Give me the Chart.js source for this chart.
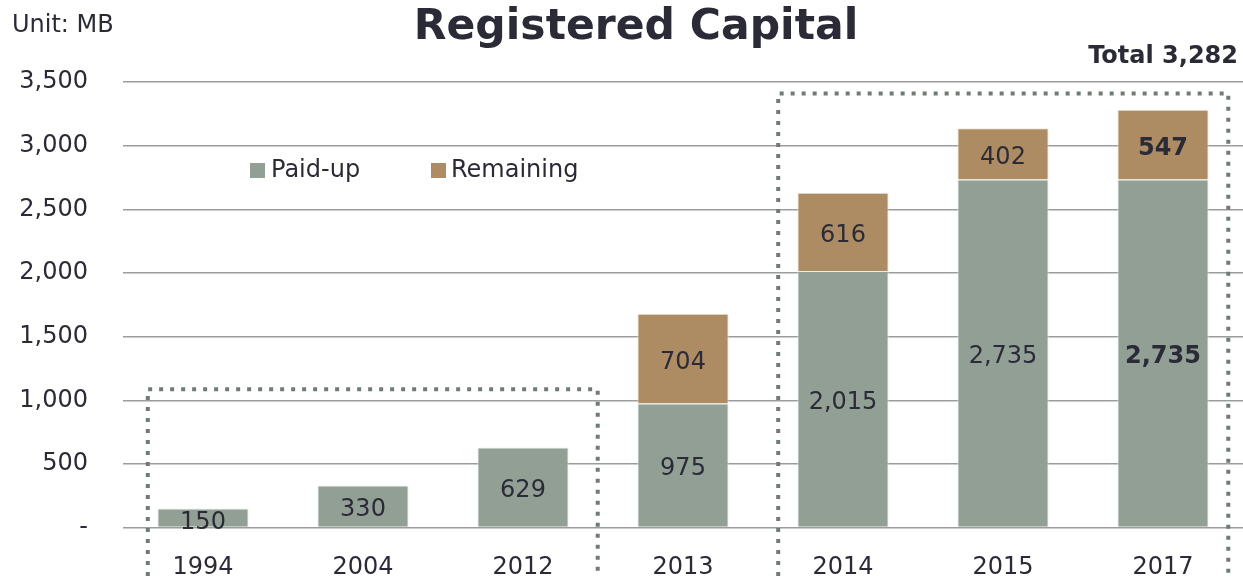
<!DOCTYPE html>
<html>
<head>
<meta charset="utf-8">
<script src="https://cdn.jsdelivr.net/npm/chart.js@4.4.1/dist/chart.umd.min.js"></script>
<style>
  html, body { margin: 0; padding: 0; background: #fff; }
  #wrap { position: relative; width: 1243px; height: 577px; overflow: hidden; font-family: 'DejaVu Sans', sans-serif; color: #2b2b38; }
  #chart { position: absolute; left: 0; top: 0; }
  .txt { position: absolute; white-space: nowrap; }
  #unit { left: 12px; top: 10px; font-size: 24px; }
  #title { left: 0; width: 1272px; text-align: center; top: 0px; font-size: 42.5px; font-weight: bold; }
  #total { right: 5px; top: 41px; font-size: 24px; font-weight: bold; }
  .sw { position: absolute; width: 15px; height: 15px; top: 163px; }
  .lg { position: absolute; top: 155px; font-size: 24px; }
</style>
</head>
<body>
<div id="wrap">
  <canvas id="chart" width="1243" height="577"></canvas>
  <div class="txt" id="unit">Unit: MB</div>
  <div class="txt" id="title">Registered Capital</div>
  <div class="txt" id="total">Total 3,282</div>
  <div id="legend"></div>
</div>
<script>
// Chart data
var years = ['1994', '2004', '2012', '2013', '2014', '2015', '2017'];
var paidUp = [150, 330, 629, 975, 2015, 2735, 2735];
var remaining = [null, null, null, 704, 616, 402, 547];
var yTicks = [0, 500, 1000, 1500, 2000, 2500, 3000, 3500];

var PAID_COLOR = '#929f95';
var REM_COLOR = '#ad8c63';
var TEXT_COLOR = '#2b2b38';
var FONT = "'DejaVu Sans', sans-serif";

// legend (html, sits inside the plot area)
document.getElementById('legend').innerHTML =
  '<span class="sw" style="left:250px;background:' + PAID_COLOR + '"></span>' +
  '<span class="lg txt" style="left:271px">Paid-up</span>' +
  '<span class="sw" style="left:431px;background:' + REM_COLOR + '"></span>' +
  '<span class="lg txt" style="left:451px">Remaining</span>';

// value labels in the middle of each segment
var segLabels = {
  id: 'segLabels',
  afterDatasetsDraw: function(chart) {
    var ctx = chart.ctx;
    ctx.save();
    ctx.fillStyle = TEXT_COLOR;
    ctx.textAlign = 'center';
    ctx.textBaseline = 'middle';
    chart.data.datasets.forEach(function(ds, di) {
      var meta = chart.getDatasetMeta(di);
      meta.data.forEach(function(bar, i) {
        var v = ds.data[i];
        if (v == null) return;
        var bold = i === years.length - 1;
        ctx.font = (bold ? 'bold ' : '') + '24px ' + FONT;
        var y = (bar.y + bar.base) / 2;
        if (di === 0 && i === 0) y += 1;
        ctx.fillText(v.toLocaleString('en-US'), bar.x, y + 4);
      });
    });
    ctx.restore();
  }
};

// dotted group boxes
var groupBoxes = {
  id: 'groupBoxes',
  afterDatasetsDraw: function(chart) {
    var ctx = chart.ctx;
    var xs = chart.scales.x, ys = chart.scales.y;
    var cw = xs.getPixelForValue(1) - xs.getPixelForValue(0);
    var boxes = [
      { from: 0, to: 2, top: 1086, lo: 0.345, ro: 0.467 },
      { from: 4, to: 6, top: 3410, lo: 0.405, ro: 0.408 }
    ];
    ctx.save();
    ctx.strokeStyle = '#6f7b73';
    ctx.lineWidth = 4;
    ctx.setLineDash([4, 7]);
    boxes.forEach(function(b) {
      var l = xs.getPixelForValue(b.from) - b.lo * cw;
      var r = xs.getPixelForValue(b.to) + b.ro * cw;
      var t = ys.getPixelForValue(b.top);
      var bottom = chart.height + 10;
      ctx.beginPath();
      ctx.moveTo(l, bottom);
      ctx.lineTo(l, t);
      ctx.lineTo(r, t);
      ctx.lineTo(r, bottom);
      ctx.stroke();
    });
    ctx.restore();
  }
};

new Chart(document.getElementById('chart'), {
  type: 'bar',
  data: {
    labels: years,
    datasets: [
      { label: 'Paid-up', data: paidUp, backgroundColor: PAID_COLOR, borderColor: '#e8ebe8', borderWidth: 1, barPercentage: 0.57, categoryPercentage: 1 },
      { label: 'Remaining', data: remaining, backgroundColor: REM_COLOR, borderColor: '#efe6da', borderWidth: 1, barPercentage: 0.57, categoryPercentage: 1 }
    ]
  },
  options: {
    responsive: false,
    animation: false,
    events: [],
    layout: { padding: { top: 82, left: 0, right: 0, bottom: 0 } },
    plugins: { legend: { display: false }, tooltip: { enabled: false }, title: { display: false } },
    scales: {
      x: {
        stacked: true,
        grid: { display: false },
        border: { display: false },
        ticks: { color: TEXT_COLOR, font: { size: 24, family: FONT }, padding: 18, maxRotation: 0 },
        afterFit: function(s) { s.height = 48; }
      },
      y: {
        stacked: true,
        min: 0,
        max: 3500,
        afterBuildTicks: function(s) { s.ticks = yTicks.map(function(v) { return { value: v }; }); },
        grid: { color: '#9c9c9c', lineWidth: 1.5, drawTicks: false },
        border: { display: false },
        ticks: {
          color: TEXT_COLOR,
          font: { size: 24, family: FONT },
          padding: 35,
          callback: function(v) { return v === 0 ? '-' : v.toLocaleString('en-US'); }
        },
        afterFit: function(s) { s.width = 123; }
      }
    }
  },
  plugins: [segLabels, groupBoxes]
});
</script>
</body>
</html>
